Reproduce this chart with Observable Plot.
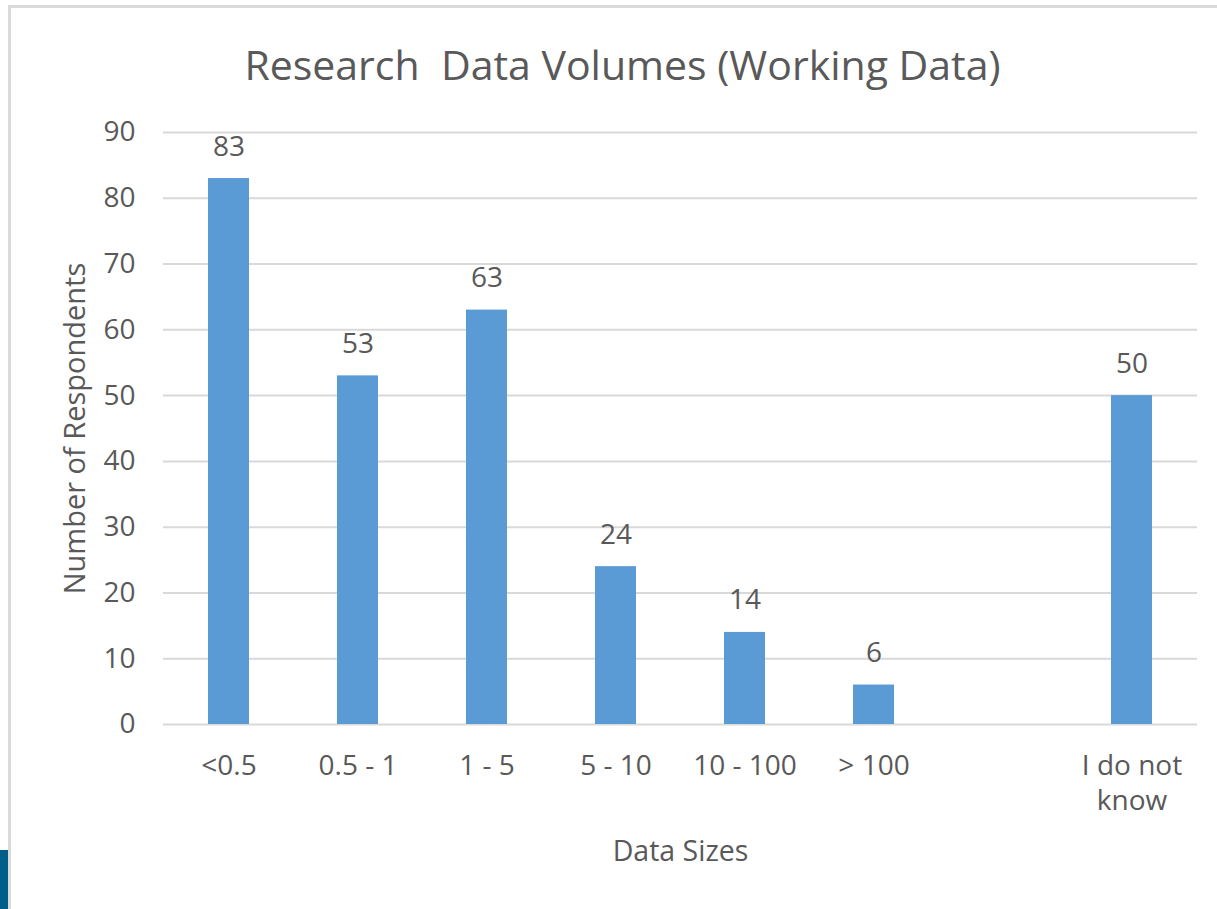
<!DOCTYPE html>
<html>
<head>
<meta charset="utf-8">
<script src="https://cdn.jsdelivr.net/npm/d3@7"></script>
<script src="https://cdn.jsdelivr.net/npm/@observablehq/plot@0.6"></script>
<style>
  html, body { margin: 0; padding: 0; background: #fff; }
  #wrap { position: relative; width: 1217px; height: 909px; overflow: hidden; }
  #border { position: absolute; left: 8px; top: 5px; width: 1400px; height: 1100px; border: 3px solid #d9d9d9; box-sizing: border-box; }
  #tab { position: absolute; left: 0; top: 850px; width: 8px; height: 59px; background: #005f88; }
  #chart { position: absolute; left: 0; top: 0; }
</style>
</head>
<body>
<div id="wrap">
  <div id="border"></div>
  <div id="tab"></div>
  <div id="chart"></div>
</div>
<script>
const categories = ["<0.5", "0.5 - 1", "1 - 5", "5 - 10", "10 - 100", "> 100", "I do not know"];
const values = [83, 53, 63, 24, 14, 6, 50];
const slots = ["<0.5", "0.5 - 1", "1 - 5", "5 - 10", "10 - 100", "> 100", " ", "I do not know"];
const yTicks = [0, 10, 20, 30, 40, 50, 60, 70, 80, 90];
const titleText = "Research\u00a0 Data Volumes (Working Data)";
const xTitle = "Data Sizes";
const yTitle = "Number of Respondents";

const data = categories.map((c, i) => ({cat: c, value: values[i]}));
const tickLabel = d => d === "I do not know" ? "I do not\nknow" : d;

const chart = Plot.plot({
  width: 1217,
  height: 909,
  marginLeft: 163,
  marginRight: 20,
  marginTop: 132,
  marginBottom: 185,
  style: {fontFamily: "'Open Sans', sans-serif", fontSize: "28px", color: "#595959", background: "transparent", overflow: "visible"},
  x: {domain: slots, paddingInner: 0.683, paddingOuter: 0.3415, label: null},
  y: {domain: [0, 90], label: null},
  marks: [
    Plot.gridY(yTicks, {stroke: "#d9d9d9", strokeOpacity: 1, strokeWidth: 2}),
    Plot.axisY(yTicks, {tickSize: 0, tickPadding: 28, fontSize: 28, fill: "#595959", label: null}),
    Plot.axisX({tickSize: 0, tickPadding: 26, fontSize: 28, lineHeight: 1.25, fill: "#595959", tickFormat: tickLabel, label: null}),
    Plot.barY(data, {x: "cat", y: "value", fill: "#5b9bd5"}),
    Plot.text(data, {x: "cat", y: "value", text: d => String(d.value), dy: -32, fontSize: 28, fill: "#595959"}),
    Plot.text([titleText], {frameAnchor: "top", dx: -58, dy: -82, fontSize: 41, fill: "#595959"}),
    Plot.text([xTitle], {frameAnchor: "bottom", dy: 136, fontSize: 28.5, fill: "#595959"}),
    Plot.text([yTitle], {frameAnchor: "left", textAnchor: "middle", dx: -88, rotate: -90, fontSize: 29, fill: "#595959"})
  ]
});
document.getElementById("chart").appendChild(chart);
</script>
</body>
</html>
